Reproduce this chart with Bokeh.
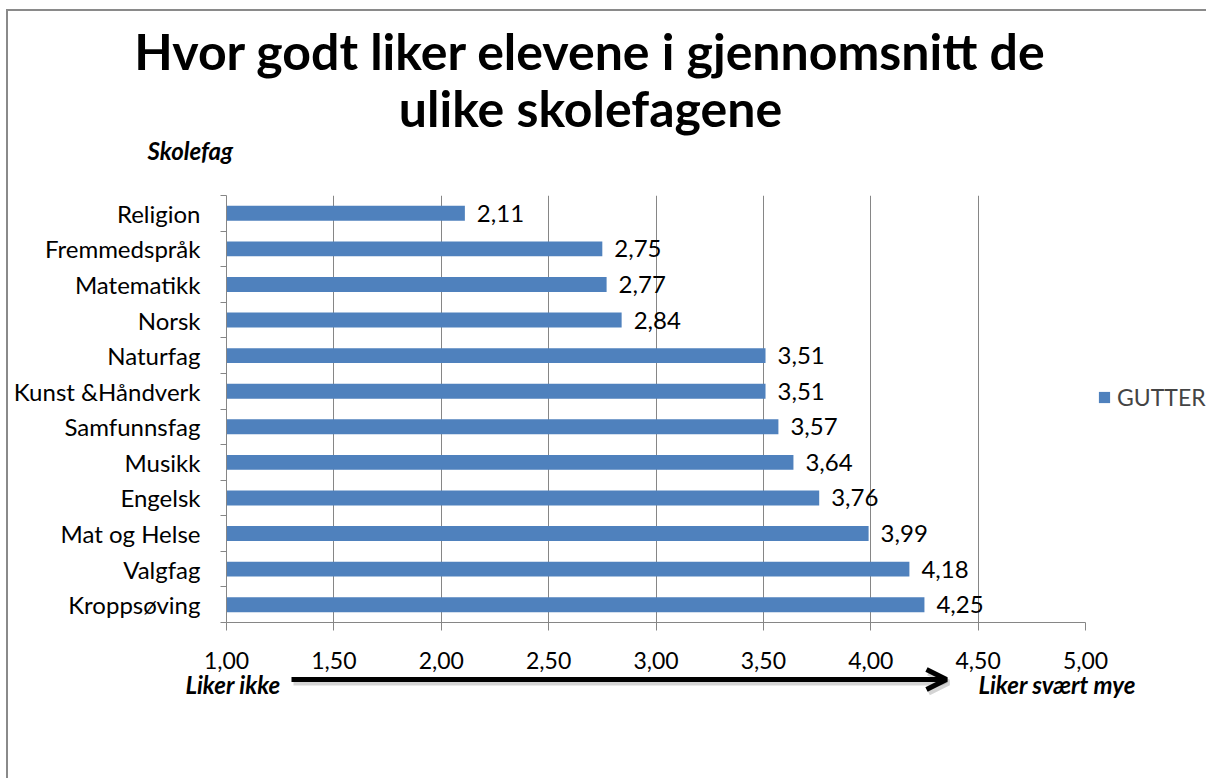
from bokeh.plotting import figure
from bokeh.models import (Range1d, FixedTicker, Label, LabelSet,
                          ColumnDataSource, Arrow, OpenHead, Legend, LegendItem)
from bokeh.core.properties import value
from bokeh.embed import file_html
from bokeh.resources import INLINE

# ---------------- data ----------------
categories = ["Religion", "Fremmedspråk", "Matematikk", "Norsk", "Naturfag",
              "Kunst &Håndverk", "Samfunnsfag", "Musikk", "Engelsk", "Mat og Helse",
              "Valgfag", "Kroppsøving"]
values = [2.11, 2.75, 2.77, 2.84, 3.51, 3.51, 3.57, 3.64, 3.76, 3.99, 4.18, 4.25]
x_ticks = [1.0, 1.5, 2.0, 2.5, 3.0, 3.5, 4.0, 4.5, 5.0]
x_tick_labels = ["1,00", "1,50", "2,00", "2,50", "3,00", "3,50", "4,00", "4,50", "5,00"]
series_name = "GUTTER"
title_lines = ["Hvor godt liker elevene i gjennomsnitt de", "ulike skolefagene"]
y_title = "Skolefag"
x_low_label = "Liker ikke"
x_high_label = "Liker svært mye"

# ---------------- style / layout ----------------
FONT = "Lato"
BAR = "#4F81BD"
GRID = "#868686"
EDGE = "2px solid #8a8a8a"
X0, X1 = 1.0, 5.0
N = len(categories)

W = 1200                 # width of every panel
LEFT0, TOP0 = 8, 11      # page position where the content starts
FL, FR, FT, FB = 226, 1085, 197, 624   # plot frame on the page
HEAD_BOTTOM = 192
MAIN_BOTTOM = 692
FOOT_TOP = 664           # foot panel overlaps the bottom of the chart panel
FOOT_BOTTOM = 780


def blank(height, top, transparent=False):
    """Panel without axes whose data units are page pixels (y downward)."""
    f = figure(width=W, height=height,
               x_range=Range1d(LEFT0, LEFT0 + W), y_range=Range1d(top + height, top),
               x_axis_location=None, y_axis_location=None,
               output_backend="svg", toolbar_location=None,
               min_border=0, background_fill_color="white", border_fill_color="white")
    if transparent:
        f.background_fill_alpha = 0
        f.border_fill_alpha = 0
    f.outline_line_color = None
    f.grid.visible = False
    return f


# ---------------- head: title ----------------
head = blank(HEAD_BOTTOM - TOP0, TOP0)
head.styles = {"margin-left": "6px", "margin-top": "9px",
               "border-left": EDGE, "border-top": EDGE}
for line, mid in zip(title_lines, [50, 107]):
    head.add_layout(Label(x=590, y=mid, text=line, text_align="center",
                          text_baseline="middle", text_font=FONT,
                          text_font_style="bold", text_font_size="50px", text_color="black"))
head.add_layout(Label(x=147, y=150, text=y_title, text_align="left", text_baseline="middle",
                      text_font=FONT, text_font_style="bold italic", text_font_size="24px",
                      text_color="black"))

# ---------------- main chart ----------------
pos = [N - 0.5 - i for i in range(N)]          # first category at the top
labels = [f"{v:.2f}".replace(".", ",") for v in values]
src = ColumnDataSource(dict(pos=pos, cat=categories, val=values, lbl=labels))

p = figure(frame_width=FR - FL, frame_height=FB - FT,
           x_range=Range1d(X0, X1), y_range=Range1d(0, N),
           output_backend="svg", toolbar_location=None,
           min_border_left=FL - LEFT0, min_border_right=W - (FR - LEFT0),
           min_border_top=FT - HEAD_BOTTOM, min_border_bottom=MAIN_BOTTOM - FB,
           background_fill_color="white", border_fill_color="white")
p.outline_line_color = None
p.styles = {"margin-left": "6px", "border-left": EDGE}

bounds = [float(i) for i in range(N + 1)]
ya = p.yaxis[0]
ya.ticker = FixedTicker(ticks=pos, minor_ticks=bounds)
ya.major_label_overrides = dict(zip(pos, categories))
ya.major_tick_in = 0
ya.major_tick_out = 0
ya.minor_tick_in = 0
ya.minor_tick_out = 6
ya.minor_tick_line_color = GRID
ya.axis_line_color = GRID
ya.major_label_standoff = 20
ya.major_label_text_font = FONT
ya.major_label_text_font_size = "24px"
ya.major_label_text_color = "black"

xa = p.xaxis[0]
xa.ticker = FixedTicker(ticks=x_ticks)
xa.major_label_overrides = dict(zip(x_ticks, x_tick_labels))
xa.major_tick_in = 0
xa.major_tick_out = 8
xa.minor_tick_line_color = None
xa.major_tick_line_color = GRID
xa.axis_line_color = GRID
xa.major_label_standoff = 21
xa.major_label_text_font = FONT
xa.major_label_text_font_size = "23px"
xa.major_label_text_color = "black"

p.xgrid.ticker = FixedTicker(ticks=x_ticks)
p.xgrid.grid_line_color = GRID
p.xgrid.grid_line_width = 1
p.ygrid.visible = False

bars = p.hbar(y="pos", left=X0, right="val", height=0.42, source=src,
              fill_color=BAR, line_color=None)

p.add_layout(LabelSet(x="val", y="pos", text="lbl", source=src, x_offset=12,
                      text_baseline="middle", text_font=value(FONT), text_font_size="24px",
                      text_color="black"))

legend = Legend(items=[LegendItem(label=series_name, renderers=[bars])],
                location=(12, 211), padding=0, margin=0, spacing=0,
                glyph_width=14, glyph_height=14, label_standoff=6,
                label_text_font=FONT, label_text_font_size="23px",
                border_line_color=None, background_fill_alpha=0)
p.add_layout(legend, "right")

# ---------------- foot: arrow and scale words ----------------
foot = blank(FOOT_BOTTOM - FOOT_TOP, FOOT_TOP, transparent=True)
foot.styles = {"margin-left": "6px", "border-left": EDGE,
               "margin-top": f"-{MAIN_BOTTOM - FOOT_TOP}px", "position": "relative"}
foot.add_layout(Arrow(x_start=293, y_start=684, x_end=948, y_end=684,
                      line_width=6, line_color="#a0a0a0", line_alpha=0.45,
                      end=OpenHead(size=20, line_width=6, line_color="#a0a0a0", line_alpha=0.45)))
foot.add_layout(Arrow(x_start=291, y_start=681, x_end=946, y_end=681,
                      line_width=5, line_color="black",
                      end=OpenHead(size=20, line_width=5, line_color="black")))
foot.add_layout(Label(x=185, y=686, text=x_low_label, text_align="left", text_baseline="middle",
                      text_font=FONT, text_font_style="bold italic", text_font_size="24px",
                      text_color="black"))
foot.add_layout(Label(x=978, y=686, text=x_high_label, text_align="left", text_baseline="middle",
                      text_font=FONT, text_font_style="bold italic", text_font_size="24px",
                      text_color="black"))

open("out.html", "w").write(file_html([head, p, foot], INLINE))
